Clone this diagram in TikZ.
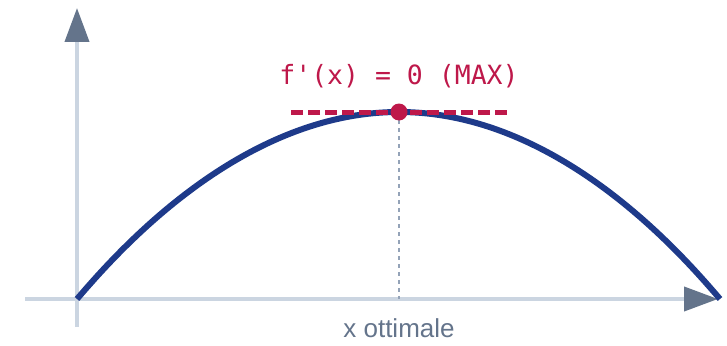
\documentclass[tikz,border=0pt]{standalone}
\usepackage{fontspec}
\setmainfont{Liberation Sans}
\newfontfamily\codefont{DejaVu Sans Mono}
\usepackage{xcolor}
\usepackage{tikz}
\usetikzlibrary{arrows.meta,positioning,calc}
\definecolor{axisline}{RGB}{203, 213, 225}
\definecolor{axistip}{RGB}{100, 116, 139}
\definecolor{curveblue}{RGB}{30, 58, 138}
\definecolor{maxred}{RGB}{190, 24, 74}
\definecolor{guidegray}{RGB}{148, 163, 184}

\begin{document}
\begin{tikzpicture}[
    x=1pt, y=-1pt,
    axis/.style={draw=axisline, line width=4pt, -{Triangle[length=34pt, width=24pt, color=axistip]}},
    curve/.style={draw=curveblue, line width=6pt},
    tangent/.style={draw=maxred, line width=5pt, dash pattern=on 12pt off 5pt},
    guide/.style={draw=guidegray, line width=1.8pt, dash pattern=on 4pt off 4pt},
    peakdot/.style={circle, fill=maxred, inner sep=0pt, minimum size=17pt},
    maxtext/.style={text=maxred, font=\codefont\fontsize{26.5}{30}\selectfont},
    xtext/.style={text=axistip, font=\fontsize{26}{30}\selectfont}
]
    \useasboundingbox (0, 0) rectangle (727, 345);

    % Axes
    \coordinate (ybase) at (77, 327);
    \coordinate (ytip) at (77, 8);
    \coordinate (xbase) at (25, 299);
    \coordinate (xtip) at (718, 299);
    \draw[axis] (ybase) -- (ytip);
    \draw[axis] (xbase) -- (xtip);

    % Parabola through the maximum
    \coordinate (start) at (77, 299);
    \coordinate (finish) at (720, 299);
    \coordinate (top) at (399, 112);
    \draw[curve] (start) parabola bend (top) (finish);

    % Horizontal tangent and foot of the maximum
    \coordinate (tanL) at (291, 112);
    \coordinate (tanR) at (507, 112);
    \coordinate (foot) at (399, 299);
    \draw[guide] (top) -- (foot);
    \draw[tangent] (tanL) -- (tanR);
    \node[peakdot] (peak) at (top) {};

    % Labels
    \node[maxtext] (maxlabel) at (399, 76) {f'(x) = 0 (MAX)};
    \node[xtext] (xlabel) at (399, 328) {x ottimale};

\end{tikzpicture}
\end{document}
